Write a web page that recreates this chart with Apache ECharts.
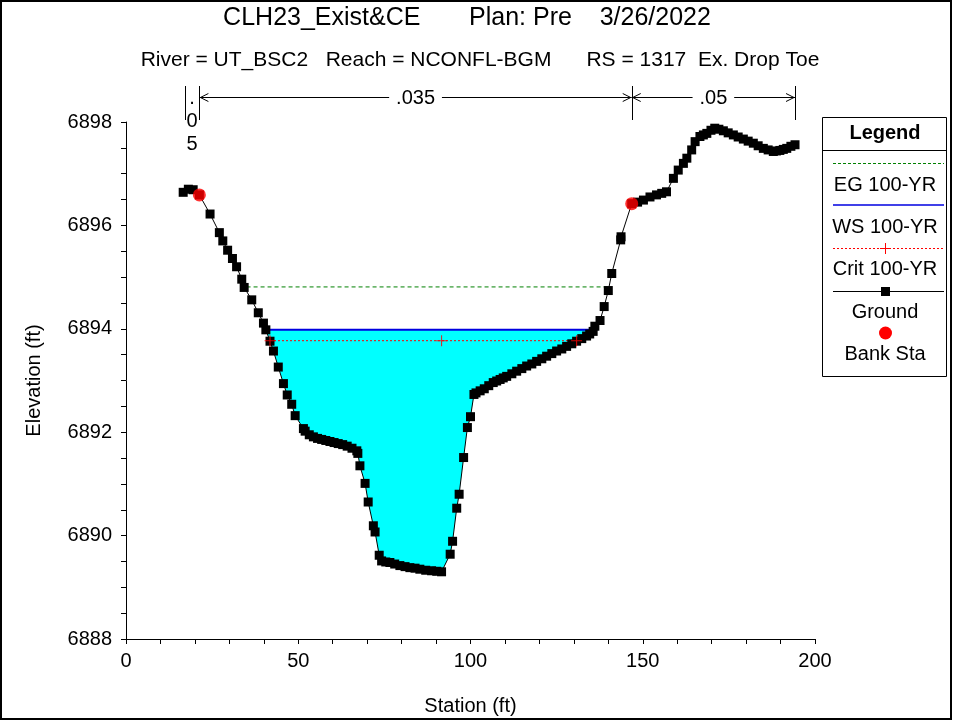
<!DOCTYPE html>
<html><head><meta charset="utf-8">
<script src="https://cdn.jsdelivr.net/npm/echarts@6/dist/echarts.min.js"></script>
<style>html,body{margin:0;padding:0;background:#fff}#c{width:953px;height:721px}</style>
</head><body><div id="c"></div>
<script>
// ---- data ----
const groundSta = [16.6,18.1,19.5,21.3,24.4,27.1,28.1,29.5,30.9,32.1,33.6,34.3,36.5,38.4,39.9,40.6,41.8,42.8,44.2,45.7,46.8,48.1,49.1,51.5,52.0,53.2,54.4,55.6,56.8,58.0,59.2,60.4,61.6,62.9,64.2,65.6,67.0,67.3,67.9,69.4,70.3,71.8,72.3,73.5,74.2,75.4,76.6,78.0,79.5,81.0,82.4,83.9,85.3,87.0,88.7,90.2,91.6,94.1,94.8,96.0,96.7,98.0,99.1,100.0,101.0,101.6,102.8,104.0,105.3,106.6,107.6,108.6,109.5,110.5,112.0,113.4,114.9,116.3,117.8,119.2,120.7,122.1,123.6,125.0,126.5,127.9,129.4,130.8,132.3,133.7,134.6,135.6,136.1,137.6,138.8,140.0,141.0,143.6,143.7,146.8,148.5,150.2,152.1,154.0,155.5,156.9,158.9,160.3,161.8,162.8,164.2,165.2,166.6,167.6,168.6,169.8,170.9,172.1,173.4,174.8,176.3,177.7,179.2,180.6,182.1,183.5,185.0,186.4,187.9,188.8,189.8,190.8,191.8,193.0,194.2];
const groundElev = [6896.64,6896.70,6896.69,6896.59,6896.22,6895.86,6895.70,6895.52,6895.36,6895.20,6894.96,6894.80,6894.56,6894.31,6894.11,6893.98,6893.76,6893.57,6893.26,6892.94,6892.72,6892.54,6892.32,6892.07,6892.02,6891.95,6891.91,6891.88,6891.86,6891.84,6891.82,6891.80,6891.78,6891.76,6891.73,6891.69,6891.64,6891.59,6891.35,6891.01,6890.65,6890.19,6890.07,6889.62,6889.51,6889.49,6889.48,6889.45,6889.42,6889.40,6889.38,6889.37,6889.35,6889.33,6889.32,6889.31,6889.30,6889.64,6889.89,6890.53,6890.80,6891.51,6892.09,6892.30,6892.73,6892.76,6892.80,6892.84,6892.90,6892.96,6892.99,6893.02,6893.05,6893.08,6893.13,6893.18,6893.23,6893.28,6893.32,6893.37,6893.42,6893.47,6893.52,6893.57,6893.61,6893.66,6893.71,6893.76,6893.81,6893.86,6893.90,6893.95,6894.05,6894.16,6894.43,6894.74,6895.07,6895.72,6895.78,6896.42,6896.45,6896.49,6896.55,6896.59,6896.62,6896.65,6896.91,6897.07,6897.20,6897.30,6897.46,6897.62,6897.72,6897.75,6897.78,6897.84,6897.88,6897.86,6897.83,6897.79,6897.75,6897.71,6897.67,6897.63,6897.59,6897.54,6897.49,6897.46,6897.43,6897.44,6897.45,6897.47,6897.49,6897.53,6897.56];
const bankSta = [21.3, 146.8];
const bankElev = [6896.59, 6896.42];
const wsSta = [40.6, 136.8];
const wsElev = 6893.98;
const egSta = [35.0, 140.0];
const egElev = 6894.81;
const critSta = [41.8, 132.3];
const critElev = 6893.77;
const critMarkSta = [41.8, 91.6, 130.8];
const nBreakSta = [17.1, 21.3, 146.8, 194.2];
const nValues = ['.05', '.035', '.05'];
const titleText = 'CLH23_Exist&CE       Plan: Pre    3/26/2022';
const subtitleText = 'River = UT_BSC2   Reach = NCONFL-BGM      RS = 1317  Ex. Drop Toe';
const legendItems = ['EG 100-YR', 'WS 100-YR', 'Crit 100-YR', 'Ground', 'Bank Sta'];

// ---- build ----
const FONT = 'Liberation Sans, Arial, sans-serif';
const ground = groundSta.map((s, i) => [s, groundElev[i]]);
const wetPoly = [[wsSta[0], wsElev]]
  .concat(ground.filter(p => p[0] > wsSta[0] && p[0] < wsSta[1]))
  .concat([[wsSta[1], wsElev]]);
const crossPath = 'path://M0,4.5h10v1h-10zM4.5,0h1v10h-1z';

const chart = echarts.init(document.getElementById('c'), null, {renderer: 'canvas'});
const option = {
  animation: false,
  backgroundColor: '#fff',
  grid: {left: 126, right: 138, top: 122, bottom: 81},
  xAxis: {
    type: 'value', min: 0, max: 200, interval: 50,
    name: 'Station (ft)', nameLocation: 'middle', nameGap: 57,
    nameTextStyle: {fontFamily: FONT, fontSize: 20, color: '#000'},
    axisLine: {lineStyle: {color: '#000', width: 1}},
    axisTick: {length: 5, lineStyle: {color: '#000'}},
    minorTick: {show: true, splitNumber: 5, length: 5, lineStyle: {color: '#000'}},
    axisLabel: {fontFamily: FONT, fontSize: 20, color: '#000', margin: 12},
    splitLine: {show: false}
  },
  yAxis: {
    type: 'value', min: 6888, max: 6898, interval: 2,
    name: 'Elevation (ft)', nameLocation: 'middle', nameGap: 82,
    nameTextStyle: {fontFamily: FONT, fontSize: 20, color: '#000'},
    axisLine: {show: true, lineStyle: {color: '#000', width: 1}},
    axisTick: {show: true, length: 5, lineStyle: {color: '#000'}},
    minorTick: {show: true, splitNumber: 4, length: 5, lineStyle: {color: '#000'}},
    axisLabel: {fontFamily: FONT, fontSize: 20, color: '#000', margin: 14, formatter: v => String(v)},
    splitLine: {show: false}
  },
  series: [
    {
      type: 'custom', name: 'wet', z: 1, silent: true,
      data: [[100, 6890]],
      renderItem: function (params, api) {
        if (params.dataIndex !== 0) return;
        return {type: 'polygon', shape: {points: wetPoly.map(p => api.coord(p))}, style: {fill: '#00ffff'}};
      }
    },
    {
      type: 'line', name: 'EG 100-YR', z: 3, symbol: 'none',
      data: egSta.map(s => [s, egElev]),
      lineStyle: {color: '#008000', width: 1, type: [4, 3]}
    },
    {
      type: 'line', name: 'WS 100-YR', z: 3, symbol: 'none',
      data: wsSta.map(s => [s, wsElev]),
      lineStyle: {color: '#0000e0', width: 2}
    },
    {
      type: 'line', name: 'Crit 100-YR', z: 3, symbol: 'none',
      data: critSta.map(s => [s, critElev]),
      lineStyle: {color: '#ff0000', width: 1, type: [2, 2]}
    },
    {
      type: 'scatter', name: 'Crit marks', z: 6, symbol: crossPath, symbolSize: 11,
      data: critMarkSta.map(s => [s, critElev]),
      itemStyle: {color: '#ff0000'}
    },
    {
      type: 'line', name: 'Ground', z: 4, symbol: 'rect', symbolSize: 9, showAllSymbol: true,
      data: ground,
      lineStyle: {color: '#000', width: 1},
      itemStyle: {color: '#000'}
    },
    {
      type: 'scatter', name: 'Bank Sta', z: 7, symbol: 'circle', symbolSize: 13,
      data: bankSta.map((s, i) => [s, bankElev[i]]),
      itemStyle: {color: '#ff0000'}
    }
  ]
};
chart.setOption(option);

// ---- annotations (titles, n-values, legend, frame) ----
const g = [];
g.push({type: 'rect', shape: {x: 1, y: 1, width: 950, height: 718}, style: {fill: 'none', stroke: '#000', lineWidth: 2}, silent: true});
g.push({type: 'text', x: 467, y: 18, style: {text: titleText, font: '25px ' + FONT, fill: '#000', textAlign: 'center', textVerticalAlign: 'middle'}});
g.push({type: 'text', x: 480, y: 60, style: {text: subtitleText, font: '21px ' + FONT, fill: '#000', textAlign: 'center', textVerticalAlign: 'middle'}});

const px = nBreakSta.map(s => chart.convertToPixel({xAxisIndex: 0}, s));
const ay = 97;
px.forEach(x => g.push({type: 'line', shape: {x1: Math.round(x) + 0.5, y1: 86, x2: Math.round(x) + 0.5, y2: 120}, style: {stroke: '#000', lineWidth: 1}}));
for (let i = 0; i < nValues.length; i++) {
  const x1 = px[i], x2 = px[i + 1], mid = (x1 + x2) / 2;
  if (x2 - x1 < 40) {
    g.push({type: 'text', x: mid, y: 86.5, style: {text: nValues[i].split('').join('\n'), font: '20px ' + FONT, fill: '#000', textAlign: 'center', textVerticalAlign: 'top', lineHeight: 23}});
    continue;
  }
  const half = nValues[i].length * 5.6 + 4;
  g.push({type: 'line', shape: {x1: x1, y1: ay + 0.5, x2: mid - half, y2: ay + 0.5}, style: {stroke: '#000', lineWidth: 1}});
  g.push({type: 'line', shape: {x1: mid + half, y1: ay + 0.5, x2: x2, y2: ay + 0.5}, style: {stroke: '#000', lineWidth: 1}});
  g.push({type: 'polyline', shape: {points: [[x1 + 9, ay - 3.5], [x1 + 1, ay + 0.5], [x1 + 9, ay + 4.5]]}, style: {stroke: '#000', fill: 'none', lineWidth: 1}});
  g.push({type: 'polyline', shape: {points: [[x2 - 9, ay - 3.5], [x2 - 1, ay + 0.5], [x2 - 9, ay + 4.5]]}, style: {stroke: '#000', fill: 'none', lineWidth: 1}});
  g.push({type: 'text', x: mid, y: ay + 1, style: {text: nValues[i], font: '20px ' + FONT, fill: '#000', textAlign: 'center', textVerticalAlign: 'middle'}});
}

// legend box
const LX = 822, LY = 117, LW = 124, LH = 259;
g.push({type: 'rect', shape: {x: LX + 0.5, y: LY + 0.5, width: LW, height: LH}, style: {fill: '#fff', stroke: '#000', lineWidth: 1}});
g.push({type: 'line', shape: {x1: LX, y1: 150.5, x2: LX + LW, y2: 150.5}, style: {stroke: '#000', lineWidth: 1}});
g.push({type: 'text', x: LX + LW / 2 + 1, y: 133, style: {text: 'Legend', font: 'bold 20px ' + FONT, fill: '#000', textAlign: 'center', textVerticalAlign: 'middle'}});
const sx1 = 833, sx2 = 944, cx = 885;
// EG
g.push({type: 'line', shape: {x1: sx1, y1: 163.5, x2: sx2, y2: 163.5}, style: {stroke: '#008000', lineWidth: 1, lineDash: [3, 2]}});
g.push({type: 'text', x: cx, y: 185, style: {text: legendItems[0], font: '20px ' + FONT, fill: '#000', textAlign: 'center', textVerticalAlign: 'middle'}});
// WS
g.push({type: 'line', shape: {x1: sx1, y1: 205, x2: sx2, y2: 205}, style: {stroke: '#0000e0', lineWidth: 1.5}});
g.push({type: 'text', x: cx, y: 227, style: {text: legendItems[1], font: '20px ' + FONT, fill: '#000', textAlign: 'center', textVerticalAlign: 'middle'}});
// Crit
g.push({type: 'line', shape: {x1: sx1, y1: 248.5, x2: sx2, y2: 248.5}, style: {stroke: '#ff0000', lineWidth: 1, lineDash: [2, 2]}});
g.push({type: 'line', shape: {x1: cx - 5, y1: 248.5, x2: cx + 5, y2: 248.5}, style: {stroke: '#ff0000', lineWidth: 1}});
g.push({type: 'line', shape: {x1: cx + 0.5, y1: 243, x2: cx + 0.5, y2: 254}, style: {stroke: '#ff0000', lineWidth: 1}});
g.push({type: 'text', x: cx, y: 269, style: {text: legendItems[2], font: '20px ' + FONT, fill: '#000', textAlign: 'center', textVerticalAlign: 'middle'}});
// Ground
g.push({type: 'line', shape: {x1: sx1, y1: 291.5, x2: sx2, y2: 291.5}, style: {stroke: '#000', lineWidth: 1}});
g.push({type: 'rect', shape: {x: cx - 4, y: 287, width: 9, height: 9}, style: {fill: '#000'}});
g.push({type: 'text', x: cx, y: 312, style: {text: legendItems[3], font: '20px ' + FONT, fill: '#000', textAlign: 'center', textVerticalAlign: 'middle'}});
// Bank
g.push({type: 'circle', shape: {cx: cx + 0.5, cy: 333, r: 6.5}, style: {fill: '#ff0000'}});
g.push({type: 'text', x: cx, y: 354, style: {text: legendItems[4], font: '20px ' + FONT, fill: '#000', textAlign: 'center', textVerticalAlign: 'middle'}});

chart.setOption({graphic: {elements: g}});
</script>
</body></html>
